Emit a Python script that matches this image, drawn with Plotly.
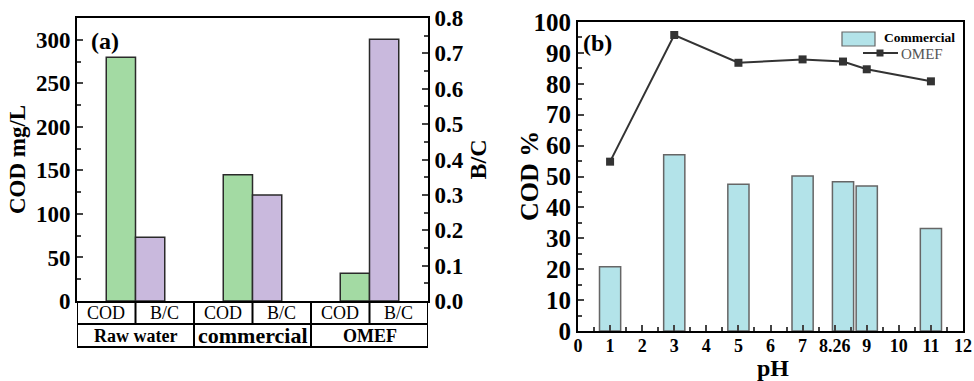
import plotly.graph_objects as go

# ---------- data: panel (a) ----------
groups = ["Raw water", "commercial", "OMEF"]
cod_mgL = [280, 145, 32]
bc_ratio = [0.18, 0.30, 0.74]
sub_labels = ["COD", "B/C"]

# ---------- data: panel (b) ----------
ph_values = [1, 3, 5, 7, 8.26, 9, 11]
commercial_cod_pct = [20.8, 57.0, 47.5, 50.2, 48.3, 46.9, 33.2]
omef_cod_pct = [54.8, 95.8, 86.8, 87.9, 87.2, 84.7, 80.8]
ph_tickvals = list(range(0, 13))
ph_ticktext = ["0", "1", "2", "3", "4", "5", "6", "7", "8.26", "9", "10", "11", "12"]

SERIF = "Liberation Serif, Times New Roman, serif"
W, H = 974, 381

GREEN = "#a3daa3"
PURPLE = "#c9b9dd"
CYAN = "#b3e3e9"
DARK = "#333333"

fig = go.Figure()

gx = list(range(len(groups)))

# Panel (a) bars
fig.add_trace(go.Bar(
    x=gx, y=cod_mgL, width=0.25, offset=-0.25,
    marker=dict(color=GREEN, line=dict(color="#2a2a2a", width=1.5)),
    xaxis="x", yaxis="y", showlegend=False, name="COD"))
fig.add_trace(go.Bar(
    x=gx, y=bc_ratio, width=0.25, offset=0.0,
    marker=dict(color=PURPLE, line=dict(color="#2a2a2a", width=1.5)),
    xaxis="x", yaxis="y2", showlegend=False, name="B/C"))

# Panel (b)
fig.add_trace(go.Bar(
    x=ph_values, y=commercial_cod_pct, width=0.66,
    marker=dict(color=CYAN, line=dict(color="#666666", width=1.5)),
    xaxis="x2", yaxis="y3", name="Commercial", showlegend=False))
fig.add_trace(go.Scatter(
    x=ph_values, y=omef_cod_pct, mode="lines+markers",
    line=dict(color=DARK, width=2),
    marker=dict(symbol="square", size=8, color=DARK),
    xaxis="x2", yaxis="y3", name="OMEF", showlegend=False))

# geometry (pixels -> paper)
def px_x(p):
    return p / W

def px_y(p):
    return 1 - p / H

a_left, a_right, a_top, a_bot = 77, 428, 18, 301
b_left, b_right, b_top, b_bot = 578, 963, 22, 331

axis_common = dict(showgrid=False, zeroline=False, showline=True, linecolor="black",
                   linewidth=2, automargin=False)

fig.update_layout(
    template="none",
    width=W, height=H,
    margin=dict(l=0, r=0, t=0, b=0),
    paper_bgcolor="white", plot_bgcolor="white",
    barmode="overlay",
    showlegend=False,
    font=dict(family=SERIF, color="black"),
    xaxis=dict(domain=[px_x(a_left), px_x(a_right)], range=[-0.5, 2.5],
               showticklabels=False, ticks="", mirror=True, anchor="y", **axis_common),
    yaxis=dict(domain=[px_y(a_bot), px_y(a_top)], range=[0, 325], anchor="x",
               tickvals=[0, 50, 100, 150, 200, 250, 300], ticks="inside", ticklen=6, tickwidth=2,
               minor=dict(ticks="inside", ticklen=4, tickwidth=2, dtick=25),
               tickfont=dict(family=SERIF, size=23, weight="bold"),
               title=dict(text="COD mg/L", font=dict(family=SERIF, size=23, weight="bold"), standoff=4),
               **axis_common),
    yaxis2=dict(domain=[px_y(a_bot), px_y(a_top)], range=[0, 0.8], overlaying="y", side="right",
                anchor="x", dtick=0.1, tickformat=".1f", ticks="inside", ticklen=6, tickwidth=2,
                minor=dict(ticks="inside", ticklen=4, tickwidth=2, dtick=0.05),
                tickfont=dict(family=SERIF, size=23, weight="bold"),
                title=dict(text="B/C", font=dict(family=SERIF, size=24, weight="bold"), standoff=6),
                **axis_common),
    xaxis2=dict(domain=[px_x(b_left), px_x(b_right)], range=[0, 12], anchor="y3",
                tickvals=ph_tickvals, ticktext=ph_ticktext, ticks="inside", ticklen=6, tickwidth=2,
                minor=dict(ticks="inside", ticklen=4, tickwidth=2, dtick=0.5),
                tickfont=dict(family=SERIF, size=18, weight="bold"), mirror=True,
                ticklabelstandoff=-3,
                **axis_common),
    yaxis3=dict(domain=[px_y(b_bot), px_y(b_top)], range=[0, 100], anchor="x2",
                dtick=10, ticks="inside", ticklen=6, tickwidth=2,
                minor=dict(ticks="inside", ticklen=4, tickwidth=2, dtick=5),
                tickfont=dict(family=SERIF, size=25, weight="bold"), mirror=True,
                **axis_common),
)

def note(text, x, y, size, xref="paper", yref="paper", xanchor="center", angle=0, color="black"):
    fig.add_annotation(text=text, x=x, y=y, xref=xref, yref=yref, showarrow=False,
                       xanchor=xanchor, yanchor="middle", textangle=angle,
                       font=dict(family=SERIF, size=size, color=color))

# axis titles of panel (b)
note("<b>pH</b>", px_x(773), px_y(368), 24)
note("<b>COD %</b>", px_x(529), px_y(176), 26, angle=-90)

# panel labels
note("<b>(a)</b>", px_x(105), px_y(41), 24)
note("<b>(b)</b>", px_x(597), px_y(43), 24)

# custom legend (panel b)
fig.add_shape(type="rect", xref="paper", yref="paper",
              x0=px_x(842), x1=px_x(875), y0=px_y(46), y1=px_y(32),
              fillcolor=CYAN, line=dict(color="#666666", width=1.2))
note("<b>Commercial</b>", px_x(882), px_y(38), 13.5, xanchor="left")
fig.add_shape(type="line", xref="paper", yref="paper",
              x0=px_x(863), x1=px_x(898), y0=px_y(53), y1=px_y(53),
              line=dict(color=DARK, width=2))
fig.add_shape(type="rect", xref="paper", yref="paper",
              x0=px_x(876.5), x1=px_x(883.5), y0=px_y(56.5), y1=px_y(49.5),
              fillcolor=DARK, line=dict(color=DARK, width=0))
note("OMEF", px_x(899), px_y(54), 15, xanchor="left", color="#555555")

# category table under panel (a)
row1_top, row1_bot, row2_bot = px_y(301), px_y(324), px_y(347)
line_style = dict(color="black", width=2)
for yy in (row1_bot, row2_bot):
    fig.add_shape(type="line", xref="x", yref="paper", x0=-0.5, x1=2.5, y0=yy, y1=yy, line=line_style)
for xx in (-0.5, 2.5):
    fig.add_shape(type="line", xref="x", yref="paper", x0=xx, x1=xx, y0=row1_top, y1=row2_bot, line=line_style)
for i in range(len(groups) - 1):
    fig.add_shape(type="line", xref="x", yref="paper", x0=i + 0.5, x1=i + 0.5,
                  y0=row1_top, y1=row2_bot, line=line_style)
for i in range(len(groups)):
    fig.add_shape(type="line", xref="x", yref="paper", x0=i, x1=i,
                  y0=row1_top, y1=row1_bot, line=line_style)

group_sizes = [18, 22, 18]
for i, g in enumerate(groups):
    for j, s in enumerate(sub_labels):
        note(s, i - 0.25 + 0.5 * j, (row1_top + row1_bot) / 2, 18, xref="x")
    note("<b>%s</b>" % g, i, (row1_bot + row2_bot) / 2, group_sizes[i], xref="x")

fig.write_html("out.html")
